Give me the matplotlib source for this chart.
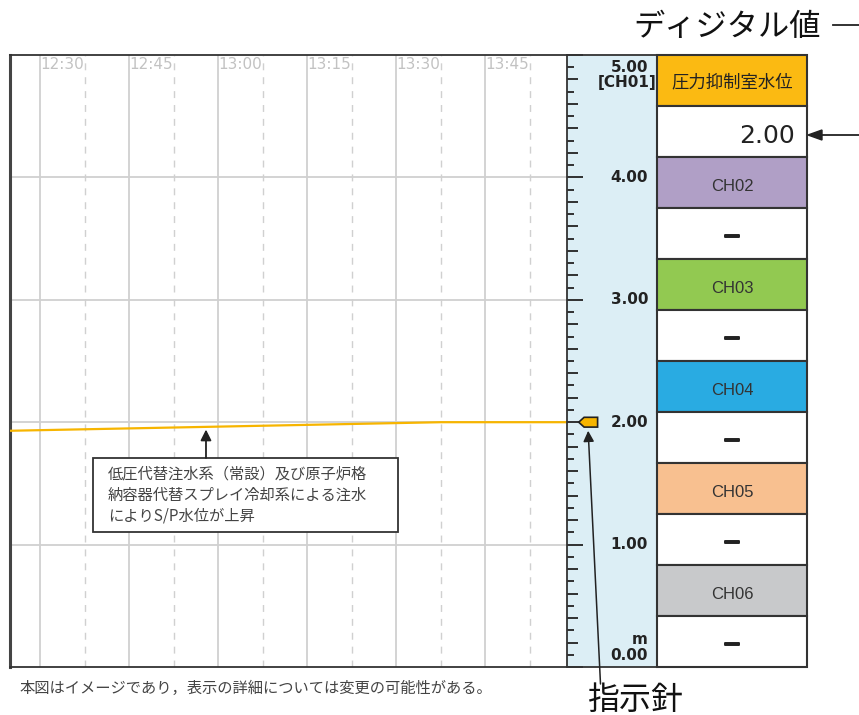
import numpy as np
import matplotlib
matplotlib.use("Agg")
import matplotlib.pyplot as plt
import matplotlib.patheffects as pe
from matplotlib.patches import Rectangle, Polygon
from matplotlib.lines import Line2D

plt.rcParams['font.family'] = ['Noto Sans CJK JP', 'DejaVu Sans']

# ---------------- data ----------------
time_labels = ["12:30", "12:45", "13:00", "13:15", "13:30", "13:45"]
time_minutes = [30, 45, 60, 75, 90, 105]          # minutes after 12:00
x_range = [17.36, 111.24]
level_t = [17.36, 90.0, 111.24]                    # trend (minutes after 12:00)
level_v = [1.93, 2.00, 2.00]                       # S/P water level [m]
y_range = [0.0, 5.0]
scale_labels = [1, 2, 3, 4]
channels = ["圧力抑制室水位", "CH02", "CH03", "CH04", "CH05", "CH06"]
channel_colors = ["#FBBA12", "#B09FC6", "#92C951", "#29ABE2", "#F8C090", "#C8C9CB"]
channel_values = [level_v[-1], None, None, None, None, None]
note_text = "低圧代替注水系（常設）及び原子炉格\n納容器代替スプレイ冷却系による注水\nによりS/P水位が上昇"
footnote = "本図はイメージであり，表示の詳細については変更の可能性がある。"

W, H = 859, 715
def fx(x): return x / W
def fy(y): return 1 - y / H

fig = plt.figure(figsize=(W / 100, H / 100), dpi=100)
fig.patch.set_facecolor("white")

# ---------------- main trend axes ----------------
ax = fig.add_axes([fx(10), fy(667), (567 - 10) / W, 612 / H])
ax.set_xlim(*x_range)
ax.set_ylim(*y_range)
ax.set_xticks([]); ax.set_yticks([])
grid_c = "#d0d0d0"
for t in time_minutes:
    ax.axvline(t - 7.5, color=grid_c, lw=1.3, zorder=1)
    ax.axvline(t, color=grid_c, lw=1.0, ls=(0, (5, 5)), zorder=1)
for v in scale_labels:
    ax.axhline(v, color=grid_c, lw=1.3, zorder=1)
for t, lab in zip(time_minutes, time_labels):
    ax.text(t - 0.2, 0.996, lab, transform=ax.get_xaxis_transform(), ha="right", va="top",
            fontsize=11, color="#c2c2c2", family="DejaVu Sans")
ax.plot(level_t, level_v, color="#F7B500", lw=1.6, zorder=3)
ax.spines["left"].set_linewidth(2.2)
ax.spines["left"].set_color("#444444")
for s in ["top", "bottom"]:
    ax.spines[s].set_linewidth(1.3)
    ax.spines[s].set_color("#333333")
ax.spines["right"].set_visible(False)

# annotation box
bx0 = 30 + (93 - 85) / 89 * 15
bx1 = 30 + (398 - 85) / 89 * 15
by0 = (667 - 532) / 122.4
by1 = (667 - 458) / 122.4
ax.add_patch(Rectangle((bx0, by0), bx1 - bx0, by1 - by0, facecolor="white",
                       edgecolor="#333333", lw=1.3, zorder=4))
ax.text(30 + (108 - 85) / 89 * 15, (by0 + by1) / 2, note_text, ha="left", va="center",
        fontsize=11, color="#444444", linespacing=1.3, zorder=5)
ax_x = 30 + (206 - 85) / 89 * 15
ax.annotate("", xy=(ax_x, 1.94), xytext=(ax_x, by1),
            arrowprops=dict(arrowstyle="-|>", color="#222222", lw=1.3, mutation_scale=16,
                            shrinkA=0, shrinkB=0), zorder=5)

# ---------------- scale panel ----------------
pax = fig.add_axes([fx(567), fy(667), 90 / W, 612 / H])
pax.set_xlim(0, 1)
pax.set_ylim(*y_range)
pax.set_facecolor("#DCEEF5")
pax.set_xticks([]); pax.set_yticks([])
for s in pax.spines.values():
    s.set_color("#333333"); s.set_linewidth(1.3)
for k in range(0, 51):
    v = k / 10
    if k % 10 == 0:
        L = 0.175
    elif k % 2 == 0:
        L = 0.125
    else:
        L = 0.075
    pax.plot([0, L], [v, v], color="#222222", lw=1.3, solid_capstyle="butt", clip_on=False)
lab_x = (648 - 567) / 90
lab_kw = dict(ha="right", va="center", fontsize=11, fontweight="bold", color="#222222",
              family="DejaVu Sans")
for v in scale_labels:
    pax.text(lab_x, v, f"{v:.2f}", **lab_kw)
pax.text(lab_x, (667 - 68) / 122.4, f"{y_range[1]:.2f}", **lab_kw)
pax.text(0.995, (667 - 82) / 122.4, "[CH01]", **lab_kw)
pax.text(lab_x, (667 - 655) / 122.4, f"{y_range[0]:.2f}", **lab_kw)
pax.text(lab_x, (667 - 640) / 122.4, "m", **lab_kw)
# pointer
cur = level_v[-1]
h = 0.04
ptr = Polygon([[0.13, cur], [0.19, cur + h], [0.34, cur + h], [0.34, cur - h], [0.19, cur - h]],
              closed=True, facecolor="#F7B500", edgecolor="#222222", lw=1.2, zorder=5)
pax.add_patch(ptr)
pax.annotate("", xy=(0.235, cur - 0.07), xycoords="data",
             xytext=(fx(600.5), fy(684)), textcoords="figure fraction",
             arrowprops=dict(arrowstyle="-|>", color="#222222", lw=1.1, mutation_scale=16,
                             shrinkA=0, shrinkB=0), annotation_clip=False)

# ---------------- channel boxes ----------------
bax = fig.add_axes([fx(657), fy(667), 150 / W, 612 / H])
bax.set_xlim(0, 1)
bax.set_ylim(12, 0)
bax.axis("off")
for i, (name, col, val) in enumerate(zip(channels, channel_colors, channel_values)):
    bax.add_patch(Rectangle((0, 2 * i), 1, 1, facecolor=col, edgecolor="#333333", lw=1.5,
                            clip_on=False))
    bax.add_patch(Rectangle((0, 2 * i + 1), 1, 1, facecolor="white", edgecolor="#333333",
                            lw=1.5, clip_on=False))
    if i == 0:
        bax.text(0.5, 2 * i + 0.54, name, ha="center", va="center", fontsize=12.5, color="#222222")
    else:
        bax.text(0.5, 2 * i + 0.58, name, ha="center", va="center", fontsize=12,
                 color="#333333", family="Liberation Sans")
    if val is None:
        bax.text(0.5, 2 * i + 1.55, "—", ha="center", va="center", fontsize=11,
                 fontweight="bold", color="#222222", family="DejaVu Sans",
                 path_effects=[pe.withStroke(linewidth=1.4, foreground="#222222")])
    else:
        bax.text(0.92, 2 * i + 1.58, f"{val:.2f}", ha="right", va="center", fontsize=18,
                 color="#222222", family="DejaVu Sans")

# ---------------- outer labels ----------------
fig.text(fx(727), fy(27), "ディジタル値", ha="center", va="center", fontsize=22.5, color="#111111")
fig.add_artist(Line2D([fx(833), fx(859)], [fy(25), fy(25)], color="#222222", lw=1.3))
fig.add_artist(Line2D([fx(820), fx(859)], [fy(135), fy(135)], color="#222222", lw=1.3))
fig.patches.append(Polygon([[fx(808), fy(135)], [fx(822), fy(130)], [fx(822), fy(140)]],
                           closed=True, transform=fig.transFigure, facecolor="#222222",
                           edgecolor="#222222", figure=fig))
fig.text(fx(635), fy(700), "指示針", ha="center", va="center", fontsize=23, color="#111111")
fig.text(fx(20), fy(688), footnote, ha="left", va="center", fontsize=11, color="#444444")

fig.savefig("out.png", dpi=100, facecolor="white")
